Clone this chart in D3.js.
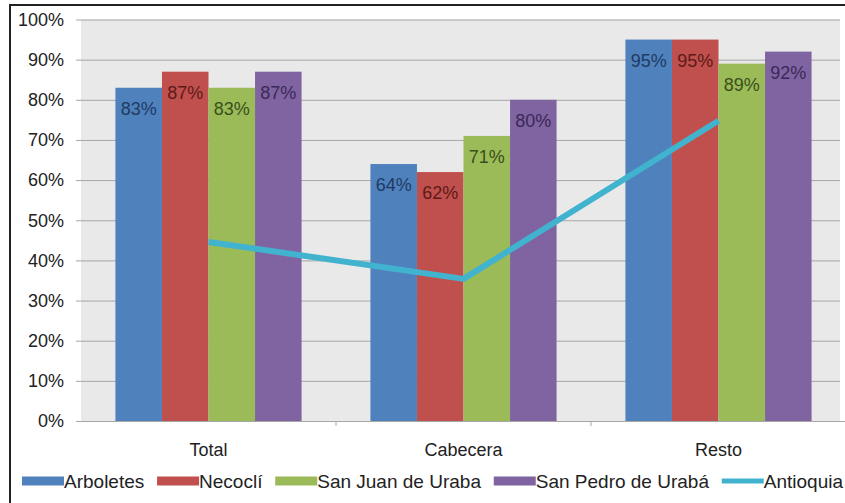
<!DOCTYPE html>
<html>
<head>
<meta charset="utf-8">
<script src="https://cdn.jsdelivr.net/npm/d3@7"></script>
<style>
  body { margin: 0; background: #fff; }
  svg text { font-family: "Liberation Sans", Arial, sans-serif; }
</style>
</head>
<body>
<svg id="chart" width="845" height="503"></svg>
<script>
// chart data
var categories = ['Total', 'Cabecera', 'Resto'];
var seriesNames = ['Arboletes', 'Necoclí', 'San Juan de Uraba', 'San Pedro de Urabá'];
var arboletes = [83, 64, 95];
var necocli = [87, 62, 95];
var sanJuan = [83, 71, 89];
var sanPedro = [87, 80, 92];
var antioquia = [44.6, 35.4, 74.8];
var lineName = 'Antioquia';
var yTicks = [0, 10, 20, 30, 40, 50, 60, 70, 80, 90, 100];

var barSeries = [arboletes, necocli, sanJuan, sanPedro];
var colors = ['#4F81BD', '#C0504D', '#9BBB59', '#8064A2'];
var labelColors = ['#1F3B63', '#5E1A18', '#3C4F1B', '#3A2956'];
var lineColor = '#41B3CE';

var svg = d3.select('#chart');
var plot = {left: 81, right: 846, top: 19.5, bottom: 421, bgRight: 840};

// outer frame (left and top edges visible)
svg.append('path')
    .attr('d', 'M10,503 L10,5 L845,5')
    .attr('fill', 'none')
    .attr('stroke', '#222')
    .attr('stroke-width', 2);

var x = d3.scaleBand().domain(categories).range([plot.left, plot.right]);
var y = d3.scaleLinear().domain([0, 100]).range([plot.bottom, plot.top]);

// plot background
svg.append('rect')
    .attr('x', plot.left).attr('y', plot.top)
    .attr('width', plot.bgRight - plot.left).attr('height', plot.bottom - plot.top)
    .attr('fill', '#E9E9E9');

// y axis + gridlines
var yAxis = d3.axisLeft(y).tickValues(yTicks)
    .tickSize(-(plot.bgRight - plot.left + 5)).tickPadding(12)
    .tickFormat(function(d) { return d + '%'; });
var gy = svg.append('g')
    .attr('transform', 'translate(' + (plot.left - 5) + ',0)')
    .call(yAxis);
gy.select('.domain').remove();
gy.selectAll('.tick line').attr('stroke', '#A6A6A6');
gy.selectAll('.tick text').attr('font-size', 18).attr('fill', '#222');

// bars, 4 per category, gap width ~ 150%
var bandW = x.bandwidth();
var barW = bandW * 0.73 / barSeries.length;
var groupOff = (bandW - barW * barSeries.length) / 2;

barSeries.forEach(function(vals, si) {
  var g = svg.append('g');
  g.selectAll('rect').data(vals).join('rect')
      .attr('x', function(d, i) { return x(categories[i]) + groupOff + si * barW; })
      .attr('y', function(d) { return y(d); })
      .attr('width', barW)
      .attr('height', function(d) { return y(0) - y(d); })
      .attr('fill', colors[si]);
  g.selectAll('text').data(vals).join('text')
      .attr('x', function(d, i) { return x(categories[i]) + groupOff + (si + 0.5) * barW; })
      .attr('y', function(d) { return y(d) + 21; })
      .attr('text-anchor', 'middle')
      .attr('dominant-baseline', 'central')
      .attr('font-size', 18)
      .attr('fill', labelColors[si])
      .text(function(d) { return Math.round(d) + '%'; });
});

// x axis
var xAxis = d3.axisBottom(x).tickSize(0).tickPadding(22);
var gx = svg.append('g')
    .attr('transform', 'translate(0,' + plot.bottom + ')')
    .call(xAxis);
gx.select('.domain').attr('stroke', '#A6A6A6');
gx.selectAll('.tick text').attr('font-size', 18).attr('fill', '#222');
// little ticks between categories
gx.selectAll('.sep').data(categories.slice(1)).join('line')
    .attr('x1', function(d) { return x(d); }).attr('x2', function(d) { return x(d); })
    .attr('y1', 0).attr('y2', 5).attr('stroke', '#A6A6A6');

// Antioquia line
var line = d3.line()
    .x(function(d, i) { return x(categories[i]) + bandW / 2; })
    .y(function(d) { return y(d); });
svg.append('path')
    .datum(antioquia)
    .attr('d', line)
    .attr('fill', 'none')
    .attr('stroke', lineColor)
    .attr('stroke-width', 6)
    .attr('stroke-linejoin', 'round');

// legend, spread across the bottom
var legendItems = seriesNames.map(function(n, i) { return {name: n, color: colors[i], type: 'bar'}; });
legendItems.push({name: lineName, color: lineColor, type: 'line'});
var legend = svg.append('g');
var swW = 42, legY = 481, legStart = 22, legEnd = 843;
var items = legend.selectAll('g').data(legendItems).join('g');
items.append('text')
    .attr('y', legY).attr('dominant-baseline', 'central')
    .attr('font-size', 19).attr('fill', '#222')
    .text(function(d) { return d.name; });
var widths = [];
items.select('text').each(function() { widths.push(this.getComputedTextLength()); });
var totalW = d3.sum(widths) + swW * legendItems.length;
var gap = (legEnd - legStart - totalW) / (legendItems.length - 1);
var cx = legStart;
items.each(function(d, i) {
  var it = d3.select(this);
  if (d.type === 'bar') {
    it.append('rect').attr('x', cx).attr('y', legY - 4.5)
        .attr('width', swW).attr('height', 9).attr('fill', d.color);
  } else {
    it.append('line').attr('x1', cx).attr('x2', cx + swW)
        .attr('y1', legY).attr('y2', legY)
        .attr('stroke', d.color).attr('stroke-width', 5);
  }
  it.select('text').attr('x', cx + swW);
  cx += swW + widths[i] + gap;
});
</script>
</body>
</html>
